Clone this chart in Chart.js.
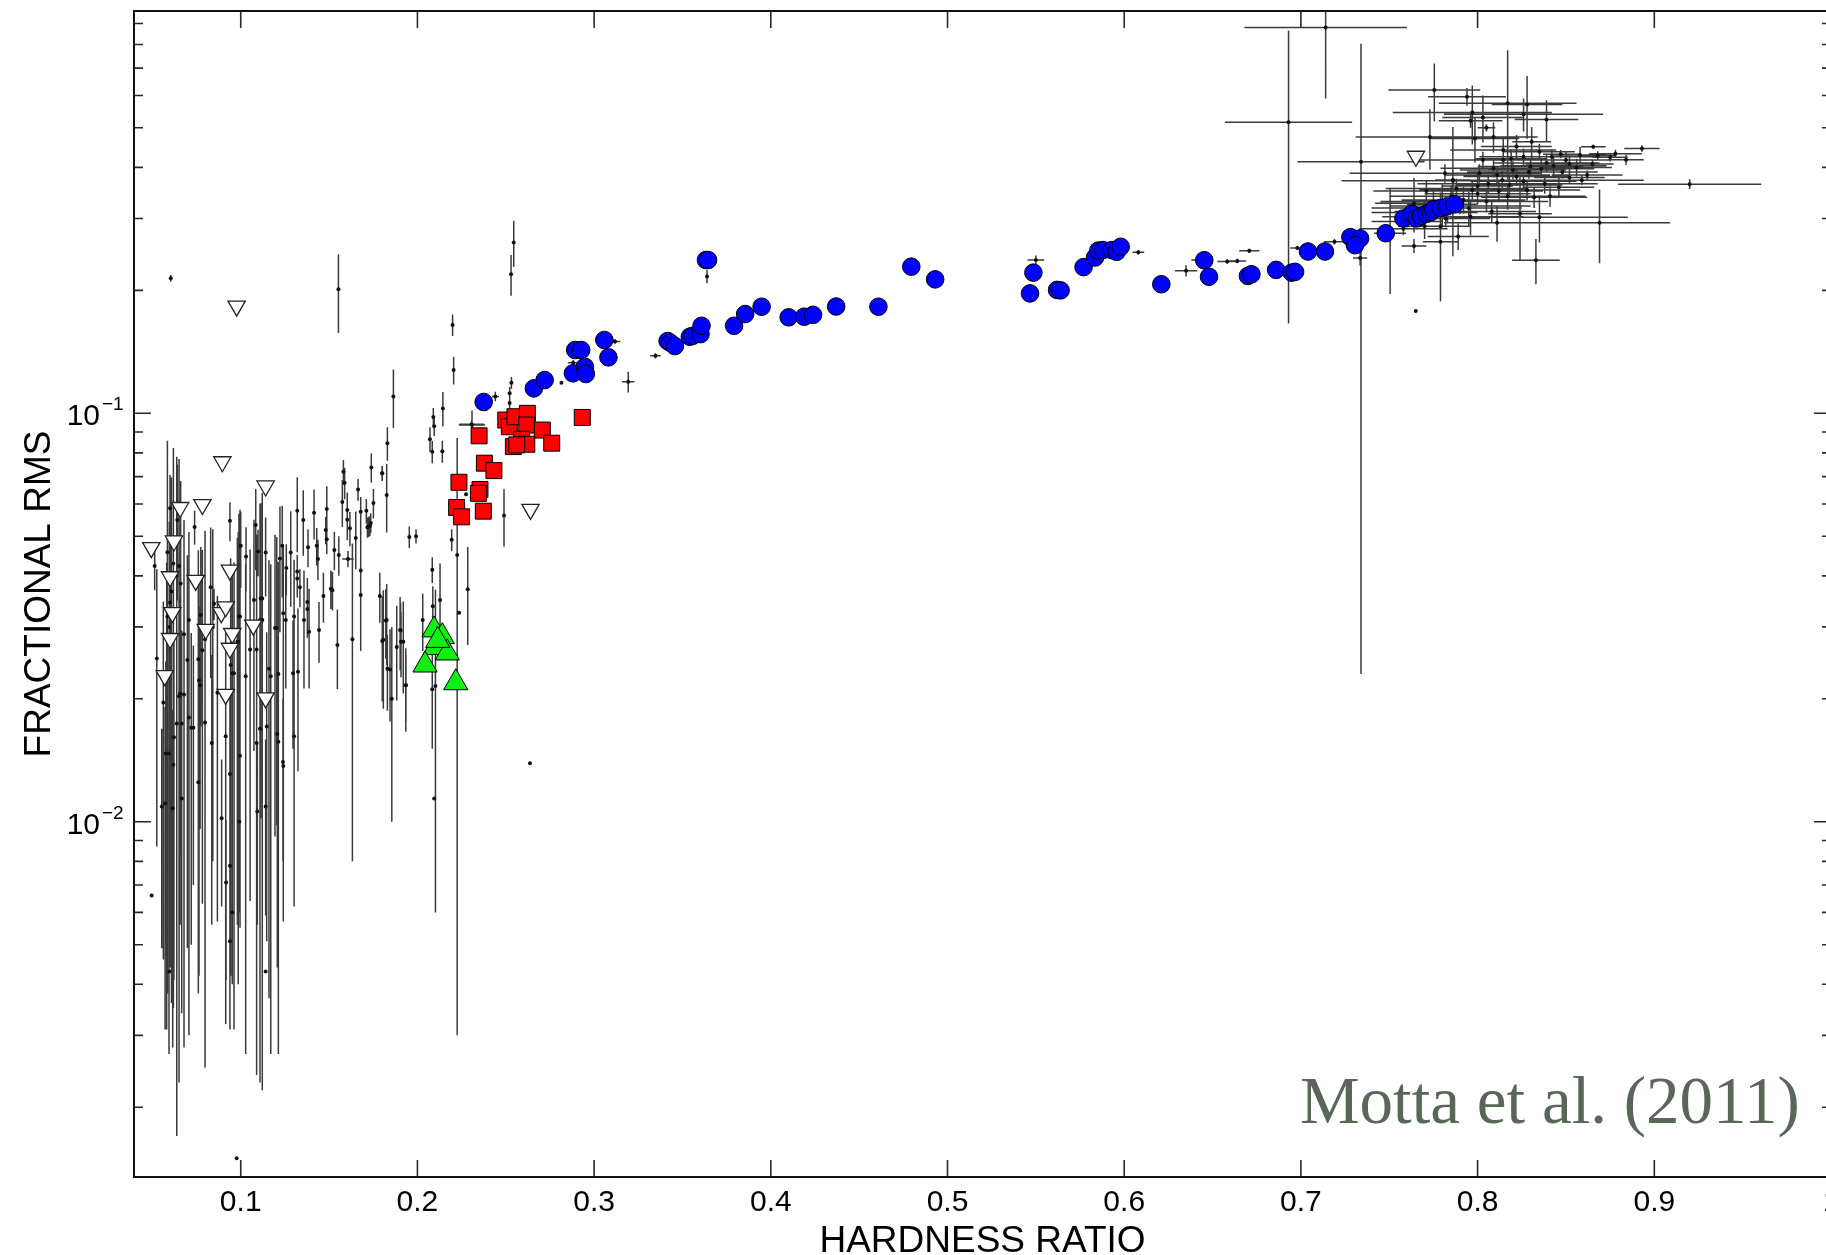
<!DOCTYPE html>
<html>
<head>
<meta charset="utf-8">
<script src="https://cdn.jsdelivr.net/npm/chart.js@4.4.1/dist/chart.umd.min.js"></script>
<style>
  html, body { margin: 0; padding: 0; background: #fff; overflow: hidden; }
  #wrap { position: relative; width: 1832px; height: 1255px; }
</style>
</head>
<body>
<div id="wrap"><canvas id="rmsChart" width="1832" height="1255"></canvas></div>
<script>
// axis ticks
const xTicks = [0.1, 0.2, 0.3, 0.4, 0.5, 0.6, 0.7, 0.8, 0.9, 1];
const xTickLabels = ['0.1', '0.2', '0.3', '0.4', '0.5', '0.6', '0.7', '0.8', '0.9', '1'];
const yDecades = [-3, -2, -1];
const yLabelExps = [-2, -1];

// black points with error bars: [hardness, rms, dHardness, dRms]
const softPoints = [
  [0.0513,0.0423,0,0.0054],[0.0525,0.0251,0,0.0164],[0.0585,0.0457,0,0.040],[0.060,0.0586,0,0.012],
  [0.0619,0.0429,0,0.0394],[0.0608,0.0366,0,0.033],[0.060,0.0344,0,0.030],[0.0585,0.0318,0,0.028],
  [0.0641,0.0548,0,0.020],[0.0651,0.0423,0,0.035],[0.066,0.0383,0,0.030],[0.0679,0.0288,0,0.026],
  [0.0698,0.0249,0,0.020],[0.0638,0.0174,0,0.014],[0.0622,0.0161,0,0.012],[0.0594,0.0147,0,0.012],
  [0.0619,0.0138,0,0.010],[0.0581,0.0231,0,0.020],[0.0651,0.0203,0,0.018],[0.0679,0.0205,0,0.015],
  [0.0707,0.018,0,0.015],[0.072,0.017,0,0.012],[0.0739,0.0527,0,0.005],[0.0774,0.0321,0,0.015],
  [0.0783,0.0263,0,0.020],[0.0798,0.0175,0,0.015],[0.0707,0.0312,0,0.020],[0.0849,0.0342,0.0007,0.003],
  [0.083,0.0375,0,0.015],[0.0764,0.0222,0,0.018],[0.0868,0.0207,0,0.015],[0.0939,0.0546,0,0.006],
  [0.0943,0.0242,0,0.020],[0.0962,0.0231,0,0.020],[0.0915,0.0162,0,0.013],[0.0981,0.0276,0,0.022],
  [0.099,0.0318,0,0.025],[0.100,0.0474,0,0.010],[0.103,0.0446,0,0.008],[0.1098,0.0459,0,0.006],
  [0.1141,0.0456,0,0.010],[0.1085,0.0533,0,0.012],[0.1075,0.0349,0,0.020],[0.1053,0.0264,0,0.020],
  [0.1028,0.0227,0,0.020],[0.1113,0.0352,0,0.025],[0.1122,0.0312,0,0.029],[0.116,0.0237,0,0.020],
  [0.117,0.0227,0,0.020],[0.1147,0.0171,0,0.012],[0.1207,0.0164,0,0.012],[0.1213,0.0157,0,0.010],
  [0.1239,0.014,0,0.006],[0.1204,0.0298,0,0.020],[0.1222,0.0441,0,0.015],[0.1235,0.0474,0,0.012],
  [0.1258,0.0418,0,0.006],[0.1283,0.0456,0,0.012],[0.1241,0.0324,0,0.015],[0.1255,0.0312,0,0.010],
  [0.1302,0.0318,0,0.012],[0.1296,0.0231,0,0.008],[0.1324,0.0233,0,0.010],[0.1302,0.0162,0,0.010],
  [0.132,0.0577,0,0.012],[0.1354,0.0548,0,0.010],[0.132,0.041,0,0.004],[0.132,0.0394,0,0.004],
  [0.1335,0.0375,0,0.004],[0.1381,0.047,0,0.005],[0.1415,0.0571,0,0.008],[0.143,0.0474,0,0.005],
  [0.1437,0.044,0,0.005],[0.1377,0.0345,0,0.005],[0.1377,0.0332,0,0.005],[0.1358,0.0312,0,0.010],
  [0.1387,0.0292,0,0.008],[0.1443,0.0295,0,0.005],[0.1468,0.0357,0,0.005],[0.1487,0.0583,0,0.008],
  [0.1481,0.0518,0,0.004],[0.1487,0.0492,0,0.004],[0.151,0.0372,0,0.004],[0.1519,0.0369,0,0.004],
  [0.1547,0.0271,0,0.006],[0.1575,0.0607,0,0.008],[0.1581,0.0719,0,0.005],[0.1588,0.0676,0,0.006],
  [0.1603,0.058,0,0.006],[0.1603,0.0549,0,0.006],[0.1618,0.0523,0,0.005],[0.153,0.0463,0,0.005],
  [0.1555,0.045,0,0.005],[0.1607,0.044,0.0033,0.002],[0.1632,0.028,0,0.020],[0.1651,0.0495,0,0.008],
  [0.1664,0.0651,0,0.004],[0.1679,0.0412,0,0.015],[0.1679,0.0359,0,0.005],[0.1679,0.0574,0,0.005],
  [0.1711,0.0577,0,0.004],[0.1717,0.0526,0,0.003],[0.1723,0.0528,0,0.003],[0.1731,0.053,0,0.003],
  [0.1736,0.0539,0,0.003],[0.1739,0.0737,0,0.006],[0.1751,0.0603,0,0.005],[0.1801,0.0713,0,0.003],
  [0.1826,0.0631,0,0.012],[0.1787,0.0357,0,0.005],[0.1801,0.0277,0,0.008],[0.1821,0.0311,0,0.006],
  [0.1845,0.0236,0,0.006],[0.1855,0.020,0,0.010],[0.1883,0.0268,0,0.007],[0.1905,0.0294,0,0.005],
  [0.1907,0.0276,0,0.005],[0.1934,0.0216,0,0.005],[0.0496,0.0066,0,0],[0.0572,0.0111,0,0.008],
  [0.0596,0.0043,0,0],[0.0615,0.0108,0,0.008],[0.0596,0.030,0,0.0243],[0.0638,0.040,0,0.0383],
  [0.076,0.025,0,0.0212],[0.0798,0.028,0,0.0236],[0.0842,0.030,0,0.022],[0.0952,0.0231,0,0.0185],
  [0.0986,0.0276,0,0.0236],[0.0996,0.0318,0,0.0263],[0.109,0.0264,0,0.024],[0.1109,0.0312,0,0.0289],
  [0.1122,0.0352,0,0.0286],[0.1213,0.023,0,0.0203],[0.1194,0.0298,0,0.0206],[0.0892,0.0102,0,0.004],
  [0.0917,0.0071,0,0.003],[0.0939,0.0078,0,0.003],[0.0952,0.006,0,0.002],[0.0939,0.0051,0,0.002],
  [0.0992,0.010,0,0.004],[0.1094,0.0106,0,0.005],[0.1141,0.0109,0,0.005],[0.1141,0.0043,0,0],
  [0.0977,0.0015,0,0],[0.0604,0.214,0,0.004],[0.1553,0.2012,0,0.044],[0.0732,0.017,0,0.010],
  [0.076,0.0125,0,0.008],[0.0939,0.0131,0,0.008],[0.0996,0.0145,0,0.008],[0.109,0.0156,0,0.010],
  [0.1109,0.0169,0,0.010],[0.1241,0.0137,0,0.008],[0.0836,0.0156,0,0.010],[0.077,0.0216,0,0.012],
  [0.0666,0.0174,0,0.012],[0.0657,0.0206,0,0.015],[0.0562,0.0196,0,0.015],[0.0553,0.0109,0,0.006],
  [0.0576,0.0147,0,0.010],[0.0666,0.0114,0,0.008]
];

const middlePoints = [
  [0.1864,0.110,0,0.018],[0.209,0.098,0,0.005],[0.2095,0.093,0,0.005],[0.2071,0.0864,0,0.006],
  [0.2084,0.0805,0,0.005],[0.2141,0.0807,0,0.005],[0.183,0.0845,0,0.008],[0.180,0.0713,0,0.003],
  [0.1954,0.0498,0,0.003],[0.1992,0.050,0,0.002],[0.2194,0.049,0,0.003],[0.2225,0.045,0,0.042],
  [0.2236,0.0325,0,0],[0.2285,0.0371,0,0.010],[0.249,0.0562,0,0.009],[0.2275,0.0634,0,0],
  [0.2307,0.094,0.007,0.002],[0.2084,0.0414,0,0.003],[0.2128,0.0349,0,0.008],[0.2087,0.0337,0,0.004],
  [0.203,0.0312,0,0.005],[0.1826,0.0312,0,0.007],[0.1902,0.0295,0,0.006],[0.1807,0.0279,0,0.009],
  [0.192,0.0276,0,0.007],[0.183,0.0237,0,0.005],[0.1935,0.0216,0,0.004],[0.2084,0.0211,0,0.006],
  [0.2102,0.0215,0,0.0155],[0.2095,0.0114,0,0],[0.2199,0.1646,0,0.010],[0.2205,0.1276,0,0.010],
  [0.2441,0.110,0.002,0.003],[0.2532,0.1188,0,0.004],[0.2522,0.112,0,0.004],[0.2522,0.106,0,0.005],
  [0.2815,0.1188,0,0],[0.3118,0.150,0.003,0.002],[0.3193,0.1194,0.0035,0.007],[0.3347,0.1383,0.003,0.002],
  [0.3639,0.2162,0,0.008],[0.2144,0.1028,0,0.010],[0.2309,0.0936,0.0075,0.008],[0.2545,0.262,0,0.034],
  [0.2530,0.219,0,0.025],[0.2637,0.0139,0,0],[0.2882,0.133,0.003,0.002],
  [0.550,0.2373,0.0047,0.006],[0.608,0.2478,0.0033,0.003],[0.635,0.2234,0.0063,0.007],[0.6583,0.2355,0.0055,0.003],
  [0.664,0.236,0.005,0.003],[0.6708,0.2499,0.0057,0.003],[0.642,0.2373,0.004,0.003],[0.698,0.254,0.004,0.003],
  [0.719,0.263,0.006,0.004],[0.765,0.178,0,0]
];

const hardPoints = [
  [0.714,0.88,0.046,0.29],[0.693,0.516,0.036,0.35],[0.734,0.413,0.036,0.39],[0.7755,0.619,0.026,0.10],
  [0.794,0.596,0.022,0.03],[0.817,0.574,0.039,0.20],[0.828,0.570,0.020,0.10],[0.826,0.540,0.045,0.05],
  [0.839,0.524,0.018,0.06],[0.803,0.530,0.023,0.07],[0.797,0.545,0.045,0.09],[0.796,0.520,0.018,0.02],
  [0.805,0.500,0.005,0.01],[0.773,0.475,0.042,0.08],[0.809,0.475,0.025,0.04],[0.7985,0.471,0.025,0.06],
  [0.8306,0.462,0.011,0.04],[0.822,0.450,0.020,0.03],[0.8145,0.441,0.030,0.03],[0.835,0.437,0.020,0.02],
  [0.847,0.431,0.010,0.01],[0.858,0.429,0.015,0.02],[0.8655,0.4495,0.007,0.005],[0.868,0.428,0.010,0.01],
  [0.875,0.4235,0.010,0.01],[0.884,0.4175,0.010,0.012],[0.865,0.408,0.010,0.01],[0.859,0.372,0.035,0.01],
  [0.846,0.3575,0.020,0.02],[0.920,0.364,0.0405,0.01],[0.869,0.293,0.040,0.06],[0.833,0.237,0.0135,0.03],
  [0.835,0.302,0.050,0.04],[0.824,0.308,0.018,0.07],[0.811,0.293,0.030,0.03],[0.841,0.340,0.020,0.02],
  [0.832,0.338,0.030,0.02],[0.796,0.303,0.030,0.03],[0.789,0.271,0.0173,0.02],[0.779,0.263,0.010,0.075],
  [0.764,0.257,0.007,0.01],[0.7505,0.276,0.009,0.08],[0.7815,0.387,0.054,0.02],[0.786,0.371,0.063,0.02],
  [0.803,0.417,0.040,0.02],[0.8145,0.417,0.030,0.02],[0.819,0.420,0.020,0.02],[0.801,0.387,0.030,0.02],
  [0.811,0.383,0.030,0.02],[0.820,0.394,0.030,0.02],[0.830,0.402,0.030,0.02],[0.839,0.410,0.030,0.02],
  [0.850,0.417,0.025,0.02],[0.764,0.327,0.022,0.05],[0.7335,0.240,0.004,0.01],[0.786,0.3725,0.010,0.13],
  [0.779,0.287,0.017,0.06],[0.775,0.330,0.030,0.02],[0.785,0.340,0.035,0.02],[0.790,0.322,0.040,0.015],
  [0.800,0.345,0.030,0.02],[0.805,0.330,0.035,0.02],[0.812,0.350,0.025,0.02],[0.818,0.362,0.030,0.02],
  [0.826,0.370,0.030,0.015],[0.770,0.310,0.030,0.02],[0.782,0.300,0.025,0.015],[0.795,0.318,0.030,0.03],
  [0.808,0.312,0.025,0.02],[0.800,0.360,0.020,0.03],[0.760,0.295,0.020,0.01],[0.770,0.287,0.015,0.02],
  [0.848,0.390,0.020,0.015],[0.856,0.400,0.020,0.02],[0.862,0.383,0.020,0.01],[0.878,0.432,0.015,0.01],
  [0.893,0.445,0.010,0.008],[0.775,0.318,0.035,0.02],[0.783,0.312,0.030,0.02],[0.792,0.333,0.035,0.025],
  [0.797,0.352,0.030,0.02],[0.806,0.365,0.040,0.02],[0.814,0.372,0.035,0.02],[0.822,0.380,0.030,0.02],
  [0.829,0.390,0.035,0.015],[0.836,0.397,0.030,0.02],[0.843,0.404,0.030,0.02],[0.852,0.408,0.025,0.015],
  [0.788,0.355,0.040,0.02],[0.809,0.398,0.030,0.02],[0.826,0.425,0.025,0.02],[0.842,0.425,0.025,0.015],
  [0.817,0.340,0.030,0.025],[0.828,0.352,0.030,0.02],[0.838,0.365,0.030,0.02],[0.852,0.378,0.020,0.015],
  [0.766,0.303,0.020,0.015],[0.758,0.283,0.025,0.01],[0.780,0.325,0.020,0.04],[0.771,0.350,0.030,0.02]
];

// upper limits (open inverted triangles)
const limitX = [0.0896,0.1141,0.0657,0.0783,0.0494,0.0622,0.0939,0.060,0.0745,0.0613,0.089,0.0915,
  0.0802,0.1071,0.0952,0.060,0.0939,0.057,0.0915,0.1141,0.0977,0.264,0.7651];
const limitY = [0.0761,0.0664,0.0588,0.0598,0.0469,0.0487,0.0413,0.0398,0.039,0.0325,0.0325,0.0336,
  0.0296,0.0303,0.0289,0.0281,0.0266,0.0228,0.0205,0.0201,0.183,0.0582,0.426];

// type-C QPO observations (blue circles)
const typeCX = [0.2375,0.2659,0.2720,0.2893,0.2927,0.2880,0.2948,0.2953,0.3058,0.3081,0.3416,0.3431,
  0.3457,0.3542,0.3558,0.3602,0.3608,0.3633,0.3645,0.3792,0.3855,0.3948,0.4101,0.4189,0.4239,0.4370,
  0.4609,0.4795,0.4930,0.5467,0.5486,0.5620,0.5640,0.5770,0.5835,0.5854,0.5880,0.5930,0.5957,0.5980,
  0.6210,0.6453,0.6480,0.6700,0.6720,0.6860,0.6948,0.6967,0.7040,0.7136,0.7280,0.7335,0.7306,0.7480,
  0.7580,0.7627,0.7655,0.7680,0.7710,0.7735,0.7750,0.7790,0.7825,0.7870];
const typeCY = [0.1066,0.1151,0.1206,0.1429,0.1429,0.1253,0.1300,0.1248,0.1512,0.1371,0.1503,0.1489,
  0.1461,0.1540,0.1548,0.1563,0.1638,0.2373,0.2373,0.1638,0.1750,0.1824,0.1718,0.1724,0.1742,0.1826,
  0.1824,0.2286,0.2128,0.1966,0.2210,0.2005,0.2000,0.2280,0.2407,0.2503,0.2510,0.2510,0.2486,0.2557,
  0.2070,0.2370,0.2160,0.2170,0.2190,0.2245,0.2210,0.2220,0.2490,0.2490,0.2700,0.2680,0.2580,0.2760,
  0.3000,0.3080,0.3000,0.3040,0.3080,0.3110,0.3160,0.3180,0.3210,0.3250];

// type-B QPO observations (red squares)
const typeBX = [0.2349,0.2500,0.2520,0.2552,0.2622,0.2619,0.2707,0.2590,0.2543,0.2619,0.2562,0.2760,
  0.2933,0.2379,0.2433,0.2235,0.2354,0.2345,0.2222,0.2250,0.2373];
const typeBY = [0.0881,0.0963,0.0927,0.0981,0.1000,0.0936,0.0910,0.0864,0.0829,0.0840,0.0837,0.0845,
  0.0977,0.0755,0.0724,0.0678,0.0651,0.0637,0.0588,0.0558,0.0576];

// type-A QPO observations (green triangles)
const typeAX = [0.2094,0.2141,0.2100,0.2169,0.2043,0.2217,0.2115];
const typeAY = [0.0295,0.0284,0.0267,0.0259,0.0242,0.0219,0.0278];

const blackPoints = softPoints.concat(middlePoints, hardPoints);
const toXY = (xs, ys) => xs.map((v, i) => ({ x: v, y: ys[i] }));

const SANS = '"Liberation Sans", Arial, Helvetica, sans-serif';

// error bars under everything, drawn through the chart scales
const errorBars = {
  id: 'errorBars',
  beforeDatasetsDraw(chart) {
    const { ctx, chartArea: a, scales: { x, y } } = chart;
    ctx.save();
    ctx.beginPath();
    ctx.rect(a.left, a.top, a.right - a.left, a.bottom - a.top);
    ctx.clip();
    ctx.strokeStyle = 'rgba(25,25,25,0.85)';
    ctx.lineWidth = 1.5;
    ctx.beginPath();
    blackPoints.forEach(p => {
      const [hx, ry, dx, dy] = p;
      const px = x.getPixelForValue(hx);
      const py = y.getPixelForValue(ry);
      if (dy > 0) {
        const lo = ry - dy;
        const pLo = lo > 0 ? y.getPixelForValue(lo) : a.bottom + 5;
        ctx.moveTo(px, pLo);
        ctx.lineTo(px, y.getPixelForValue(ry + dy));
      }
      if (dx > 0) {
        ctx.moveTo(x.getPixelForValue(hx - dx), py);
        ctx.lineTo(x.getPixelForValue(hx + dx), py);
      }
    });
    ctx.stroke();
    ctx.restore();
  }
};

// frame, inward ticks on all sides, tick labels, titles, credit
const frameAndText = {
  id: 'frameAndText',
  afterDraw(chart) {
    const { ctx, chartArea: a, scales: { x, y } } = chart;
    ctx.save();
    ctx.strokeStyle = '#2a2a2a';
    ctx.lineWidth = 1.6;
    ctx.beginPath();
    xTicks.forEach(v => {
      const px = x.getPixelForValue(v);
      ctx.moveTo(px, a.bottom); ctx.lineTo(px, a.bottom - 17);
      ctx.moveTo(px, a.top); ctx.lineTo(px, a.top + 17);
    });
    yDecades.forEach(e => {
      for (let m = 1; m <= 9; m++) {
        const v = m * Math.pow(10, e);
        if (v < y.min || v > y.max) continue;
        const py = y.getPixelForValue(v);
        const len = m === 1 ? 17 : 9;
        ctx.moveTo(a.left, py); ctx.lineTo(a.left + len, py);
        ctx.moveTo(a.right, py); ctx.lineTo(a.right - len, py);
      }
    });
    ctx.stroke();

    ctx.strokeStyle = '#111';
    ctx.lineWidth = 2;
    ctx.strokeRect(a.left, a.top, a.right - a.left, a.bottom - a.top);

    ctx.fillStyle = '#000';
    ctx.font = '30px ' + SANS;
    ctx.textAlign = 'center';
    ctx.textBaseline = 'middle';
    xTicks.forEach((v, i) => {
      ctx.fillText(xTickLabels[i], x.getPixelForValue(v), a.bottom + 26);
    });

    ctx.textBaseline = 'alphabetic';
    yLabelExps.forEach(e => {
      const py = y.getPixelForValue(Math.pow(10, e));
      ctx.font = '30px ' + SANS;
      ctx.textAlign = 'right';
      ctx.fillText('10', 100, py + 12);
      ctx.font = '19px ' + SANS;
      ctx.textAlign = 'left';
      ctx.fillText('\u2212' + Math.abs(e), 102, py - 3);
    });

    ctx.font = '37px ' + SANS;
    ctx.textAlign = 'center';
    ctx.fillText('HARDNESS RATIO', (a.left + a.right) / 2, 1252);
    ctx.save();
    ctx.translate(50, (a.top + a.bottom) / 2);
    ctx.rotate(-Math.PI / 2);
    ctx.fillText('FRACTIONAL RMS', 0, 0);
    ctx.restore();

    ctx.font = '67px "Liberation Serif", "Times New Roman", serif';
    ctx.fillStyle = '#5a665a';
    ctx.textAlign = 'left';
    ctx.fillText('Motta et al. (2011)', 1300, 1123);
    ctx.restore();
  }
};

new Chart(document.getElementById('rmsChart'), {
  type: 'scatter',
  data: {
    datasets: [
      {
        label: 'type A', data: toXY(typeAX, typeAY), order: 1,
        pointStyle: 'triangle', pointRadius: 14, backgroundColor: '#11ee11',
        borderColor: '#000', borderWidth: 1
      },
      {
        label: 'type B', data: toXY(typeBX, typeBY), order: 2,
        pointStyle: 'rect', pointRadius: 11.3, backgroundColor: '#ff0000',
        borderColor: '#000', borderWidth: 1
      },
      {
        label: 'type C', data: toXY(typeCX, typeCY), order: 3,
        pointStyle: 'circle', pointRadius: 8.8, backgroundColor: '#0000ff',
        borderColor: '#000', borderWidth: 1
      },
      {
        label: 'upper limits', data: toXY(limitX, limitY), order: 4,
        pointStyle: 'triangle', rotation: 180, pointRadius: 10, backgroundColor: '#fff',
        borderColor: '#222', borderWidth: 1.3
      },
      {
        label: 'all', data: blackPoints.map(p => ({ x: p[0], y: p[1] })), order: 5,
        pointStyle: 'circle', pointRadius: 2, backgroundColor: '#111', borderWidth: 0
      }
    ]
  },
  options: {
    responsive: false,
    animation: false,
    events: [],
    devicePixelRatio: 1,
    layout: { autoPadding: false, padding: { top: 11, right: 1, left: 0, bottom: 0 } },
    plugins: { legend: { display: false }, tooltip: { enabled: false } },
    scales: {
      x: {
        type: 'linear', min: 0.0396, max: 1.0,
        grid: { display: false, drawTicks: false },
        border: { display: false },
        ticks: { display: false },
        afterFit: s => { s.height = 78; s.paddingLeft = 0; s.paddingRight = 0; }
      },
      y: {
        type: 'logarithmic', min: 0.00135, max: 0.966,
        grid: { display: false, drawTicks: false },
        border: { display: false },
        ticks: { display: false },
        afterFit: s => { s.width = 134; s.paddingTop = 0; s.paddingBottom = 0; }
      }
    }
  },
  plugins: [errorBars, frameAndText]
});
</script>
</body>
</html>
